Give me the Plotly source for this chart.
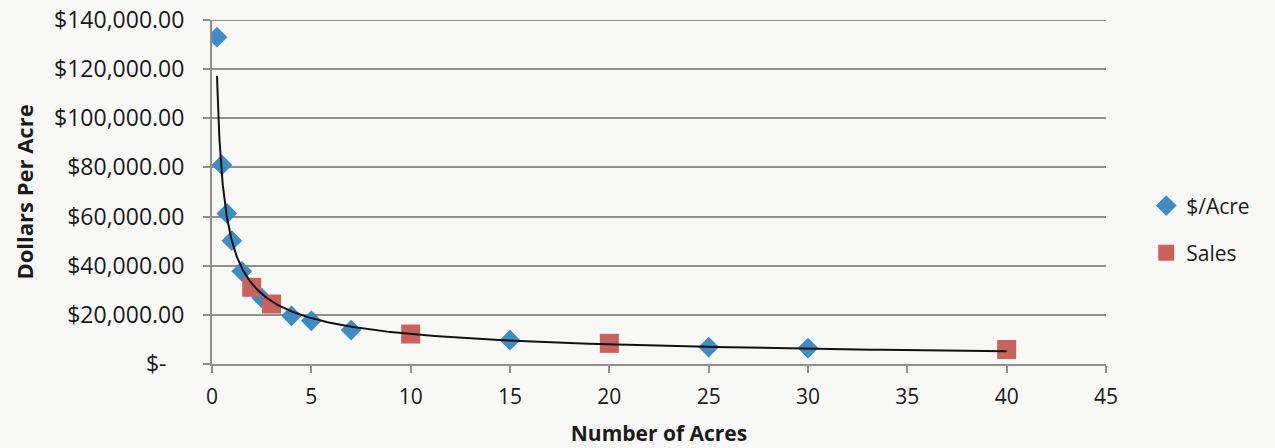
import numpy as np
import plotly.graph_objects as go

# ---- data ----
acre_x = [0.25, 0.5, 0.75, 1, 1.5, 2.5, 4, 5, 7, 15, 25, 30]
acre_y = [133000, 81000, 61300, 50200, 37700, 26900, 19600, 17600, 13800, 9700, 6900, 6500]
sales_x = [2, 3, 10, 20, 40]
sales_y = [31200, 24400, 12200, 8400, 5900]

y_tickvals = [0, 20000, 40000, 60000, 80000, 100000, 120000, 140000]
y_ticktext = ["$-\u00a0\u00a0\u00a0", "$20,000.00", "$40,000.00", "$60,000.00", "$80,000.00",
              "$100,000.00", "$120,000.00", "$140,000.00"]
x_tickvals = [0, 5, 10, 15, 20, 25, 30, 35, 40, 45]

# power trendline (as Excel does) fitted on all points in log-log space
all_x = np.array(acre_x + sales_x, dtype=float)
all_y = np.array(acre_y + sales_y, dtype=float)
b, ln_a = np.polyfit(np.log(all_x), np.log(all_y), 1)
trend_x = np.geomspace(all_x.min(), all_x.max(), 300)
trend_y = np.exp(ln_a) * trend_x ** b

BLUE = "#3d8cc2"
RED = "#c9625c"
GRID = "#8f8f8f"
FONT = "Open Sans"
TXT = "#1a1a1a"

fig = go.Figure()
fig.add_trace(go.Scatter(
    x=acre_x, y=acre_y, mode="markers", name="$/Acre", legendgroup="a",
    marker=dict(symbol="diamond", size=16, color=BLUE),
))
fig.add_trace(go.Scatter(
    x=sales_x, y=sales_y, mode="markers", name="Sales", legendgroup="b",
    marker=dict(symbol="square", size=19, color=RED),
))
fig.add_trace(go.Scatter(
    x=trend_x, y=trend_y, mode="lines", showlegend=False,
    line=dict(color="#111111", width=2), hoverinfo="skip",
))

# top gridline (plotly drops the grid line lying on the plot edge)
fig.add_shape(type="line", xref="x", yref="y", x0=0, x1=45,
              y0=y_tickvals[-1], y1=y_tickvals[-1],
              line=dict(color=GRID, width=2), layer="below")

fig.update_layout(
    width=1275, height=448,
    margin=dict(l=212, r=169, t=20, b=84, autoexpand=False),
    paper_bgcolor="#f8f8f7", plot_bgcolor="#f8f8f7",
    font=dict(family=FONT, size=21, color=TXT),
    showlegend=True,
    legend=dict(
        xref="container", yref="container", x=0.899, y=0.488,
        xanchor="left", yanchor="middle",
        font=dict(family=FONT, size=21, color=TXT),
        bgcolor="rgba(0,0,0,0)", tracegroupgap=17, traceorder="grouped",
    ),
    xaxis=dict(
        range=[0, 45], tickvals=x_tickvals, showgrid=False, zeroline=False,
        showline=True, linecolor=GRID, linewidth=2,
        ticks="outside", ticklen=7, tickwidth=2, tickcolor=GRID,
        ticklabelstandoff=6, automargin=False, ticklabeloverflow="allow",
        tickfont=dict(family=FONT, size=21, color=TXT),
        title=dict(text="<b>Number of Acres</b>", standoff=17,
                   font=dict(family=FONT, size=21, color=TXT)),
    ),
    yaxis=dict(
        range=[0, 140000], tickvals=y_tickvals, ticktext=y_ticktext,
        showgrid=True, gridcolor=GRID, gridwidth=2, zeroline=False,
        showline=True, linecolor=GRID, linewidth=2,
        ticks="outside", ticklen=7, tickwidth=2, tickcolor=GRID,
        ticklabelstandoff=14, automargin=False, ticklabeloverflow="allow",
        tickfont=dict(family=FONT, size=23, color=TXT),
        title=dict(text="<b>Dollars Per Acre</b>", standoff=14,
                   font=dict(family=FONT, size=22, color=TXT)),
    ),
)

# remove the default page margin so the figure fills the window exactly
fig.write_html("out.html", config={"displayModeBar": False},
               post_script="document.body.style.margin='0';")
